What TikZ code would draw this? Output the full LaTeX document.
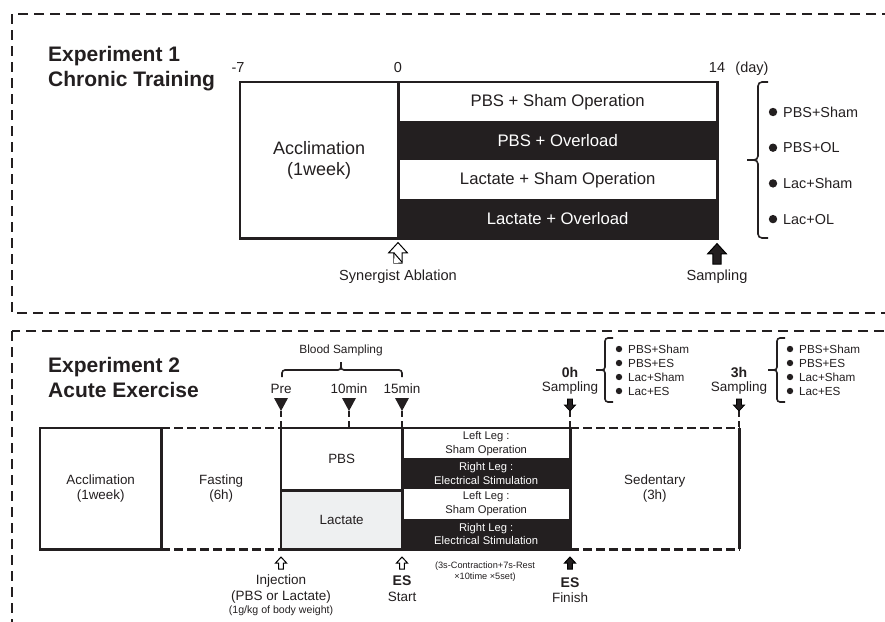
\documentclass[tikz,border=0pt]{standalone}
\usepackage{fontspec}
\setmainfont{Liberation Sans}
\usetikzlibrary{calc,positioning}
\definecolor{esblack}{HTML}{231F20}
\definecolor{lacgray}{HTML}{EEF0F1}

\tikzset{
  uparr/.pic={\draw[pic actions] (-2.4,0) -- (-2.4,-6) -- (-5.5,-6) -- (0,-12) -- (5.5,-6) -- (2.4,-6) -- (2.4,0) -- cycle;},
  hatcharr/.pic={\draw[pic actions] (-2.4,0) -- (-2.4,-6) -- (-5.5,-6) -- (0,-12) -- (5.5,-6) -- (2.4,-6) -- (2.4,0) -- cycle;
                  \draw[line width=1pt] (-2.4,-6) -- (2.4,-0.5);
                  \fill (-2.4,-3) -- (-2.4,0) -- (0.4,0) -- cycle;},
  downtri/.pic={\fill[esblack] (-7,0) -- (7,0) -- (0,13) -- cycle;}
}

\begin{document}
\begin{tikzpicture}[x=1pt,y=-1pt,
    every node/.style={inner sep=0pt, text=esblack},
    frame/.style={line width=2.2pt, dash pattern=on 10pt off 6pt, esblack},
    boxline/.style={line width=2.6pt, esblack},
    dboxline/.style={line width=2.4pt, dash pattern=on 9pt off 4pt, esblack},
    vdash/.style={line width=2.4pt, dash pattern=on 6pt off 4pt, esblack},
    title/.style={font=\bfseries\fontsize{21}{25}\selectfont, anchor=north west, align=left},
    row1/.style={font=\fontsize{16.7}{20}\selectfont, minimum width=319pt, minimum height=39pt, anchor=north west},
    row2/.style={font=\fontsize{11.2}{13.6}\selectfont, align=center, minimum width=168pt, minimum height=30.25pt, anchor=north west},
    box2/.style={font=\fontsize{13.4}{15.5}\selectfont, align=center, anchor=north west, minimum height=121pt},
    lab/.style={font=\fontsize{14.6}{17}\selectfont},
    lab2/.style={font=\fontsize{13.5}{16}\selectfont},
    bold2/.style={font=\bfseries\fontsize{14}{16}\selectfont},
    item1/.style={font=\fontsize{14.4}{17}\selectfont, anchor=west},
    item2/.style={font=\fontsize{11.7}{14}\selectfont, anchor=west},
    brc/.style={line width=1.6pt, rounded corners=4pt, esblack}
  ]
  \useasboundingbox (0,0) rectangle (885,621);
  \clip (0,0) rectangle (885,621); % frames run past the edge

  \draw[frame] (12,14) rectangle (905,313);
  \draw[frame] (12,331) rectangle (905,650);

  %%% Experiment 1
  \node[title] (t1) at (48,46) {Experiment 1\\Chronic Training};

  \node[font=\fontsize{18}{21}\selectfont, align=center, minimum width=158pt, minimum height=156pt, anchor=north west] (acc1) at (240,82) {Acclimation\\(1week)};
  \foreach \txt/\col/\tc [count=\i] in {PBS + Sham Operation/white/esblack, PBS + Overload/esblack/white, Lactate + Sham Operation/white/esblack, Lactate + Overload/esblack/white}{
    \node[row1, fill=\col, text=\tc] (r\i) at (398,{82+39*(\i-1)}) {\txt};
  }
  \draw[boxline] (acc1.north west) rectangle (r4.south east);
  \draw[boxline] (acc1.north east) -- (acc1.south east);

  \foreach \x/\t [count=\i] in {238/-7, 398/0, 717/14, 752/(day)}
    \node[font=\fontsize{14.5}{17}\selectfont, anchor=base] (tk\i) at (\x,72) {\t};

  \pic[draw, fill=white, line width=1pt, scale=1.7] (abl) at (398,263) {hatcharr};
  \pic[draw, fill=esblack, line width=1pt, scale=1.7] (smp) at (717,264) {uparr};
  \node[lab] (ablt) at (398,277) {Synergist Ablation};
  \node[lab] (smpt) at (717,277) {Sampling};

  \draw[brc] (768,82) -- (758,82) -- (758,160) -- (747,160);
  \draw[brc] (747,160) -- (758,160) -- (758,238) -- (768,238);
  \foreach \txt [count=\i] in {PBS+Sham, PBS+OL, Lac+Sham, Lac+OL}{
    \fill[esblack] (773,{112+35.7*(\i-1)}) circle (4.2pt);
    \node[item1] (g\i) at (783,{112+35.7*(\i-1)}) {\txt};
  }

  %%% Experiment 2
  \node[title] (t2) at (48,357) {Experiment 2\\Acute Exercise};

  \node[box2, minimum width=121pt] (acc2) at (40,428) {Acclimation\\(1week)};
  \node[box2, minimum width=120pt] (fast) at (161,428) {Fasting\\(6h)};
  \node[box2, minimum width=121pt, minimum height=62pt] (pbs) at (281,428) {PBS};
  \node[box2, minimum width=121pt, minimum height=59pt, fill=lacgray] (lac) at (281,490) {Lactate};
  \foreach \a/\b/\col/\tc [count=\i] in {Left Leg :/Sham Operation/white/esblack, Right Leg :/Electrical Stimulation/esblack/white, Left Leg :/Sham Operation/white/esblack, Right Leg :/Electrical Stimulation/esblack/white}{
    \node[row2, fill=\col, text=\tc] (es\i) at (402,{428+30.25*(\i-1)}) {\a\\\b};
  }
  \node[box2, minimum width=169pt] (sed) at (570,428) {Sedentary\\(3h)};

  \draw[boxline] (acc2.north west) rectangle (acc2.south east);
  \draw[dboxline] (fast.north west) -- (fast.north east);
  \draw[dboxline] (fast.south west) -- (fast.south east);
  \draw[boxline] (pbs.north west) rectangle (lac.south east);
  \draw[boxline] (pbs.south west) -- (pbs.south east);
  \draw[boxline] (es1.north west) -- (es1.north east) -- (es4.south east) -- (es4.south west);
  \draw[dboxline] (sed.north west) -- (sed.north east);
  \draw[dboxline] (sed.south west) -- (sed.south east);
  \draw[boxline] (sed.north east) -- (sed.south east);

  % blood sampling
  \node[font=\fontsize{11.9}{14}\selectfont] (bst) at (341,350) {Blood Sampling};
  \draw[brc, rounded corners=3pt] (282,377) -- (282,370) -- (341,370) -- (341,362);
  \draw[brc, rounded corners=3pt] (341,362) -- (341,370) -- (402,370) -- (402,377);
  \foreach \x/\t [count=\i] in {281/Pre, 349/10min, 402/15min}{
    \node[lab2] (bs\i) at (\x,389) {\t};
    \pic at (\x,398) {downtri};
    \coordinate (tp\i) at (\x,411);
    \draw[vdash] (tp\i) -- (tp\i |- pbs.north);
  }

  % sampling points
  \foreach \x/\t/\bx/\lx [count=\i] in {570/0h/605/619, 739/3h/777/790}{
    \node[bold2] (h\i) at (\x,372) {\t};
    \node[lab2] (hs\i) at (\x,388) {Sampling};
    \pic[draw, fill=esblack, line width=0.8pt, rotate=180] at (\x,399) {uparr};
    \coordinate (sp\i) at (\x,411);
    \draw[vdash] (sp\i) -- (sp\i |- sed.north);
    \draw[brc, rounded corners=3pt] (\bx+8,338) -- (\bx,338) -- (\bx,370) -- (\bx-9,370);
    \draw[brc, rounded corners=3pt] (\bx-9,370) -- (\bx,370) -- (\bx,402) -- (\bx+8,402);
    \foreach \txt [count=\j] in {PBS+Sham, PBS+ES, Lac+Sham, Lac+ES}{
      \fill[esblack] (\lx,{349+14*(\j-1)}) circle (3.2pt);
      \node[item2] (l\i\j) at (\lx+9,{349+14*(\j-1)}) {\txt};
    }
  }

  % injection and ES
  \pic[draw, fill=white, line width=1pt] (injarr) at (281,569) {uparr};
  \pic[draw, fill=white, line width=1pt] (esarr) at (402,569) {uparr};
  \pic[draw, fill=esblack, line width=1pt] (efarr) at (570,569) {uparr};
  \node[lab2] (inj1) at (281,581) {Injection};
  \node[lab2] (inj2) at (281,597) {(PBS or Lactate)};
  \node[font=\fontsize{10.6}{12}\selectfont] (inj3) at (281,611) {(1g/kg of body weight)};
  \node[bold2] (ess) at (402,581) {ES};
  \node[lab2] (esst) at (402,597) {Start};
  \node[bold2] (esf) at (570,583) {ES};
  \node[lab2] (esft) at (570,598) {Finish};
  \node[font=\fontsize{9.2}{11}\selectfont, align=center] (esnote) at (485,572) {(3s-Contraction+7s-Rest\\×10time ×5set)};
\end{tikzpicture}
\end{document}
